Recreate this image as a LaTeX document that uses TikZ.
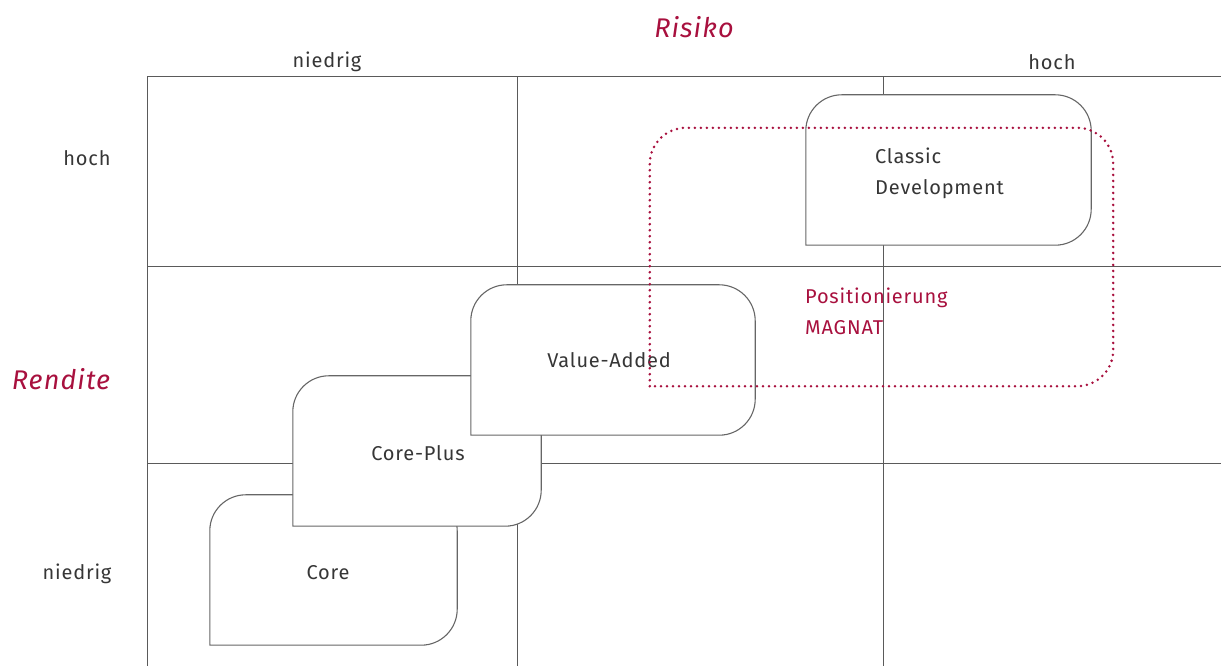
\documentclass[tikz,border=0pt]{standalone}
\usepackage{fontspec}
\setmainfont[LetterSpace=4]{Fira Sans}
\definecolor{crimson}{HTML}{A8103E}
\definecolor{ink}{HTML}{363636}
\definecolor{rule}{HTML}{5A5A5A}
\definecolor{edge}{HTML}{666666}
\tikzset{
  gridline/.style={draw=rule, line width=0.9pt},
  label/.style={text=ink, font=\fontsize{20}{31}\selectfont, inner sep=0pt},
  axis/.style={text=crimson, font=\fontsize{27}{31}\selectfont\itshape, inner sep=0pt},
  segment/.style={label, rectangle, align=left},
  tabedge/.style={draw=edge, fill=white, line width=1.1pt},
  zone/.style={draw=crimson, line width=2.8pt, line cap=round, dash pattern=on 0pt off 6pt},
}
% box outline: sharp lower-left corner, other three corners rounded
\newcommand\tabpath[3]{%
  \path[#1] (#2.south west) -- ([yshift=-#3]#2.north west)
    arc[start angle=180, end angle=90, radius=#3]
    -- ([xshift=-#3]#2.north east)
    arc[start angle=90, end angle=0, radius=#3]
    -- ([yshift=#3]#2.south east)
    arc[start angle=0, end angle=-90, radius=#3]
    -- cycle;}
\begin{document}
\begin{tikzpicture}[x=1pt, y=1pt]
\useasboundingbox (0,0) rectangle (1221,666);

% matrix grid
\draw[gridline] (147,0) -- (147,590) -- (1221,590);
\draw[gridline] (517,0) -- (517,590);
\draw[gridline] (883,0) -- (883,590);
\draw[gridline] (147,400) -- (1221,400);
\draw[gridline] (147,203) -- (1221,203);

% axis titles and levels
\node[axis] (risk) at (694,639) {Risiko};
\node[axis] (ret) at (61,287) {Rendite};
\node[label] (rlow) at (327,604) {niedrig};
\node[label] (rhigh) at (1052,604) {hoch};
\node[label] (yhigh) at (87,508) {hoch};
\node[label] (ylow) at (77,92) {niedrig};

% strategy boxes, back to front
\node[segment, minimum width=247pt, minimum height=150pt] (core) at (333.5,96) {};
\tabpath{tabedge}{core}{36pt}
\node[segment] (corelabel) at (328,93) {Core};

\node[segment, minimum width=248pt, minimum height=150pt] (coreplus) at (417,215) {};
\tabpath{tabedge}{coreplus}{36pt}
\node[segment] (cpluslabel) at (418,213) {Core-Plus};

\node[segment, minimum width=284pt, minimum height=150pt] (valueadd) at (613,306) {};
\tabpath{tabedge}{valueadd}{36pt}
\node[segment] (valabel) at (609,306) {Value-Added};

\node[segment, minimum width=285pt, minimum height=150pt] (classic) at (948.5,496) {};
\tabpath{tabedge}{classic}{36pt}
\node[segment, anchor=west] (cdlabel) at (875,493) {Classic\\Development};

% positioning zone
\node[minimum width=463pt, minimum height=258pt, inner sep=0pt] (magnat) at (881.5,409) {};
\tabpath{zone}{magnat}{36pt}
\node[segment, text=crimson, anchor=west] (magnatlabel) at (805,354.5) {Positionierung\\MAGNAT};
\end{tikzpicture}
\end{document}
